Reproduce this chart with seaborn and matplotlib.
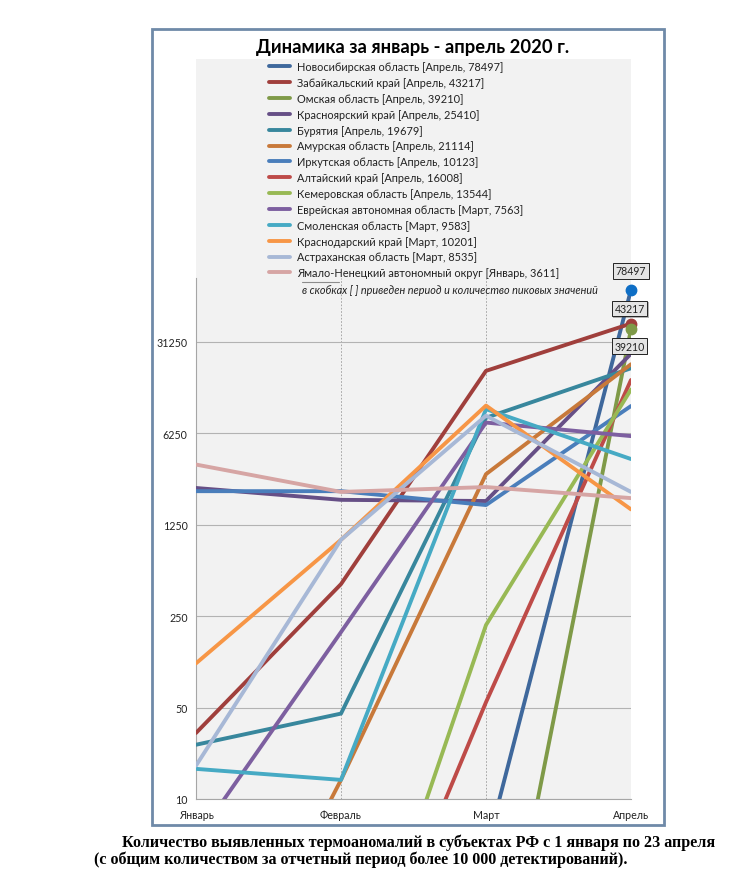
import pandas as pd
import numpy as np
import matplotlib
matplotlib.use("Agg")
import matplotlib.pyplot as plt
import matplotlib.patheffects as pe
from matplotlib.patches import Rectangle
from matplotlib.ticker import FixedLocator, FixedFormatter, NullLocator
import seaborn as sns

months = ["Январь", "Февраль", "Март", "Апрель"]
yticks = [10, 50, 250, 1250, 6250, 31250]

novosib = [0.1, 0.1, 4, 78497]
zabaik = [32, 440, 18800, 43217]
omsk = [0.1, 0.1, 0.1, 39210]
krasnoyarsk = [2390, 1940, 1900, 25410]
buryatia = [26, 45, 8230, 19679]
amur = [0.1, 14, 3050, 21114]
irkutsk = [2260, 2260, 1770, 10123]
altai = [0.12, 0.12, 55, 16008]
kemerovo = [0.12, 0.12, 214, 13544]
evrei = [4.9, 189, 7563, 5960]
smolensk = [17, 14, 9583, 3980]
krasnodar = [109, 960, 10201, 1640]
astrakhan = [18, 960, 8535, 2230]
yamal = [3611, 2230, 2430, 2000]

names = [
    "Новосибирская область [Апрель, 78497]",
    "Забайкальский край [Апрель, 43217]",
    "Омская область [Апрель, 39210]",
    "Красноярский край [Апрель, 25410]",
    "Бурятия [Апрель, 19679]",
    "Амурская область [Апрель, 21114]",
    "Иркутская область [Апрель, 10123]",
    "Алтайский край [Апрель, 16008]",
    "Кемеровская область [Апрель, 13544]",
    "Еврейская автономная область [Март, 7563]",
    "Смоленская область [Март, 9583]",
    "Краснодарский край [Март, 10201]",
    "Астраханская область [Март, 8535]",
    "Ямало-Ненецкий автономный округ [Январь, 3611]",
]
series = [novosib, zabaik, omsk, krasnoyarsk, buryatia, amur, irkutsk, altai,
          kemerovo, evrei, smolensk, krasnodar, astrakhan, yamal]
colors = ["#3f689c", "#a03f3c", "#7f9a48", "#664f86", "#38879d", "#c8793a",
          "#4a7ebb", "#be4b48", "#98b954", "#7d5fa0", "#46aac4", "#f79646",
          "#a7b8d6", "#d6a5a4"]

# callouts on the three biggest series
peak_labels = [78497, 43217, 39210]
peak_colors = ["#0f6fc6", "#a03f3c", "#7f9a48"]
peak_offsets = [19, 15, -17]

rows = []
for name, vals in zip(names, series):
    for m, v in zip(months, vals):
        rows.append({"month": m, "region": name, "count": v})
df = pd.DataFrame(rows)

W, H = 733, 887
L, R, T, B = 196, 631, 279, 800
step = 91.4  # px per x5 on the y axis

sns.set_theme(style="white")
plt.rcParams["font.family"] = ["Lato", "DejaVu Sans"]

fig = plt.figure(figsize=(W / 100, H / 100), dpi=100)
fig.patch.set_facecolor("white")

# outer frame and grey backing behind the legend
fig.add_artist(Rectangle((151.5 / W, 1 - 826 / H), 512 / W, 796 / H, transform=fig.transFigure,
                         fc="white", ec="#6f8aa8", lw=2, zorder=-2))
fig.add_artist(Rectangle((L / W, 1 - T / H), (R - L) / W, (T - 60) / H, transform=fig.transFigure,
                         fc="#f2f2f2", ec="none", zorder=-1))

ax = fig.add_axes([L / W, 1 - B / H, (R - L) / W, (B - T) / H])
ax.set_facecolor("#f2f2f2")
sns.lineplot(data=df, x="month", y="count", hue="region", hue_order=names, palette=colors,
             sort=False, linewidth=2.8, ax=ax, legend=True, zorder=3)
ax.set_yscale("log", base=5)
ax.set_ylim(10, 10 * 5 ** ((B - T) / step))
ax.set_xlim(0, 3)
ax.yaxis.set_major_locator(FixedLocator(yticks))
ax.yaxis.set_major_formatter(FixedFormatter([str(t) for t in yticks]))
ax.yaxis.set_minor_locator(NullLocator())
ax.set_xlabel("")
ax.set_ylabel("")
ax.grid(axis="y", color="#b3b3b3", lw=0.8)
ax.grid(axis="x", color="#9a9a9a", lw=0.6, ls=(0, (2, 2)))
ax.set_axisbelow(True)
for s in ["top", "right"]:
    ax.spines[s].set_visible(False)
for s in ["left", "bottom"]:
    ax.spines[s].set_color("#a6a6a6")
    ax.spines[s].set_linewidth(0.8)
ax.tick_params(axis="both", labelsize=7.7, colors="#222222", length=3, color="#a6a6a6", width=0.8, pad=3)
ax.tick_params(axis="x", pad=4)

handles, labels = ax.get_legend_handles_labels()
ax.get_legend().remove()
fig.legend(handles, labels, loc="upper left", bbox_to_anchor=(268 / W, 1 - 61 / H), frameon=False,
           fontsize=7.95, labelcolor="#222222", handlelength=1.9, handletextpad=0.65,
           labelspacing=0.44, borderpad=0.1, borderaxespad=0)

for i, (val, c, off) in enumerate(zip(peak_labels, peak_colors, peak_offsets)):
    ax.plot(["Апрель"], [val], "o", ms=7.5, color=c, clip_on=False, zorder=5)
    t = ax.annotate(str(val), ("Апрель", val), xytext=(-1 if i else 0, off * 0.72), textcoords="offset points",
                    ha="center", va="center", fontsize=7.6, color="#222222", zorder=6, annotation_clip=False,
                    bbox=dict(boxstyle="square,pad=0.22", fc="#e4e4e4", ec="#222222", lw=0.7))
    t.get_bbox_patch().set_path_effects([pe.SimplePatchShadow(offset=(1, -1), alpha=0.4), pe.Normal()])

fig.text(413 / W, 1 - 47.5 / H, "Динамика за январь - апрель 2020 г.", ha="center", va="center",
         fontsize=13.25, fontweight="bold", color="black")
fig.add_artist(plt.Line2D([302 / W, 339 / W], [1 - 283 / H] * 2, color="#8c8c8c", lw=0.8))
fig.text(302 / W, 1 - 291 / H, "в скобках [ ] приведен период и количество пиковых значений", ha="left",
         va="center", fontsize=7.8, style="italic", color="#222222")

fig.text(419 / W, 1 - 843 / H, "Количество выявленных термоаномалий в субъектах РФ с 1 января по 23 апреля",
         ha="center", va="center", fontsize=11.65, fontweight="bold", family="Liberation Serif", color="black")
fig.text(361 / W, 1 - 860 / H, "(с общим количеством за отчетный период более 10 000 детектирований).",
         ha="center", va="center", fontsize=11.65, fontweight="bold", family="Liberation Serif", color="black")

fig.savefig("out.png", dpi=100)
